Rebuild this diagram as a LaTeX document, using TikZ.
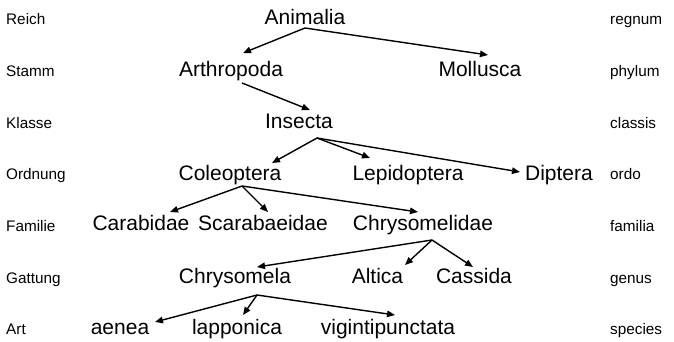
\documentclass[tikz,border=0pt]{standalone}
\usepackage{fontspec}
\setmainfont{Liberation Sans}
\usetikzlibrary{arrows.meta,calc}
\begin{document}
\begin{tikzpicture}[x=1pt,y=-1pt,
  tx/.style={font=\fontsize{21}{21}\selectfont, inner sep=0pt, anchor=base},
  side/.style={font=\fontsize{15.3}{15.3}\selectfont, inner sep=0pt, anchor=base west},
  arr/.style={line width=1.4pt, -{Triangle[length=8pt,width=6.5pt]}}]
\useasboundingbox[fill=white] (0,0) rectangle (674,341);
% rank labels
\node[side] (lReich) at (6,24) {Reich};
\node[side] (lStamm) at (6,76) {Stamm};
\node[side] (lKlasse) at (6,128) {Klasse};
\node[side] (lOrdnung) at (6,179.5) {Ordnung};
\node[side] (lFamilie) at (6,231) {Familie};
\node[side] (lGattung) at (6,283) {Gattung};
\node[side] (lArt) at (6,334) {Art};
\node[side] (rReich) at (610,24) {regnum};
\node[side] (rStamm) at (610,76) {phylum};
\node[side] (rKlasse) at (610,128) {classis};
\node[side] (rOrdnung) at (610,179.5) {ordo};
\node[side] (rFamilie) at (610,231) {familia};
\node[side] (rGattung) at (610,283) {genus};
\node[side] (rArt) at (610,334) {species};
% taxa
\node[tx] (Animalia) at (305,24.5) {Animalia};
\node[tx] (Arthropoda) at (231,76) {Arthropoda};
\node[tx] (Mollusca) at (480,76) {Mollusca};
\node[tx] (Insecta) at (299,128) {Insecta};
\node[tx] (Coleoptera) at (230,180) {Coleoptera};
\node[tx] (Lepidoptera) at (408,180) {Lepidoptera};
\node[tx] (Diptera) at (559,180) {Diptera};
\node[tx] (Carabidae) at (141,230.5) {Carabidae};
\node[tx] (Scarabaeidae) at (263,230.5) {Scarabaeidae};
\node[tx] (Chrysomelidae) at (423,230.5) {Chrysomelidae};
\node[tx] (Chrysomela) at (235,283) {Chrysomela};
\node[tx] (Altica) at (377.5,283) {Altica};
\node[tx] (Cassida) at (474,283) {Cassida};
\node[tx] (aenea) at (120,334) {aenea};
\node[tx] (lapponica) at (237,334) {lapponica};
\node[tx] (vigintipunctata) at (388,334) {vigintipunctata};
% arrows
\draw[arr] ($(Animalia.base)+(0,3.5)$) -- ($(Arthropoda.base)+(12,-23)$);
\draw[arr] ($(Animalia.base)+(0,3.5)$) -- ($(Mollusca.base)+(8,-21)$);
\draw[arr] ($(Arthropoda.base)+(11,7)$) -- ($(Insecta.base)+(11,-18)$);
\draw[arr] ($(Insecta.base)+(18,10)$) -- ($(Coleoptera.base)+(42,-17)$);
\draw[arr] ($(Insecta.base)+(18,10)$) -- ($(Lepidoptera.base)+(-38,-22)$);
\draw[arr] ($(Insecta.base)+(18,10)$) -- ($(Diptera.base)+(-39,-8)$);
\draw[arr] ($(Coleoptera.base)+(12,6)$) -- ($(Carabidae.base)+(29,-18.5)$);
\draw[arr] ($(Coleoptera.base)+(12,6)$) -- ($(Scarabaeidae.base)+(5,-18.5)$);
\draw[arr] ($(Coleoptera.base)+(12,6)$) -- ($(Chrysomelidae.base)+(-5,-18.5)$);
\draw[arr] ($(Chrysomelidae.base)+(9,9.5)$) -- ($(Chrysomela.base)+(22,-16)$);
\draw[arr] ($(Chrysomelidae.base)+(9,9.5)$) -- ($(Altica.base)+(27.5,-18)$);
\draw[arr] ($(Chrysomelidae.base)+(9,9.5)$) -- ($(Cassida.base)+(-1,-16)$);
\draw[arr] ($(Chrysomela.base)+(22,12)$) -- ($(aenea.base)+(35,-12)$);
\draw[arr] ($(Chrysomela.base)+(22,12)$) -- ($(lapponica.base)+(6,-19)$);
\draw[arr] ($(Chrysomela.base)+(22,12)$) -- ($(vigintipunctata.base)+(7,-19)$);
\end{tikzpicture}
\end{document}
